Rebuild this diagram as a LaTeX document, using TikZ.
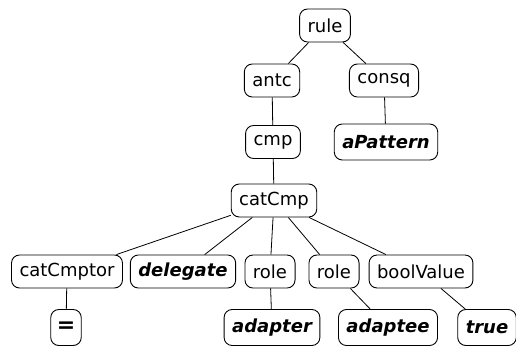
\documentclass[tikz,border=0pt]{standalone}
\usepackage{fontspec}
\setmainfont{DejaVu Sans}
\begin{document}
\begin{tikzpicture}[x=1pt,y=-1pt,
  tn/.style={draw, rounded corners=8pt, line width=0.9pt, minimum height=33pt, inner xsep=8pt, inner ysep=3pt, font=\fontsize{18}{21}\selectfont},
  tl/.style={tn, font=\fontsize{18}{21}\selectfont\bfseries\itshape, minimum height=36pt},
  ed/.style={line width=0.8pt}]
\useasboundingbox (0,0) rectangle (516,349);
\node[tn] (rule) at (325,25.5) {rule};
\node[tn] (antc) at (272,80.5) {antc};
\node[tn] (consq) at (384,80.5) {consq};
\node[tn] (cmp) at (273,142) {cmp};
\node[tl] (apat) at (386,142) {aPattern};
\node[tn] (catcmp) at (274,200.5) {catCmp};
\node[tn] (catcmptor) at (67,271.5) {catCmptor};
\node[tl,minimum height=33pt] (deleg) at (183,271.5) {delegate};
\node[tn] (role1) at (270,271.5) {role};
\node[tn] (role2) at (334,271.5) {role};
\node[tn] (bool) at (421,271.5) {boolValue};
\node[tl,font=\fontsize{22}{24}\selectfont\bfseries,inner xsep=6pt] (eq) at (66,327.5) {=};
\node[tl] (adapter) at (272,327.5) {adapter};
\node[tl] (adaptee) at (388,327.5) {adaptee};
\node[tl] (true) at (487,327.5) {true};
\draw[ed] (rule) -- (antc);
\draw[ed] (rule) -- (consq);
\draw[ed] (antc) -- (cmp);
\draw[ed] (consq) -- (apat);
\draw[ed] (cmp) -- (catcmp);
\draw[ed] (catcmp) -- (catcmptor);
\draw[ed] (catcmp) -- (deleg);
\draw[ed] (catcmp) -- (role1);
\draw[ed] (catcmp) -- (role2);
\draw[ed] (catcmp) -- (bool);
\draw[ed] (catcmptor) -- (eq);
\draw[ed] (role1) -- (adapter);
\draw[ed] (role2) -- (adaptee);
\draw[ed] (bool) -- (true);
\end{tikzpicture}
\end{document}
